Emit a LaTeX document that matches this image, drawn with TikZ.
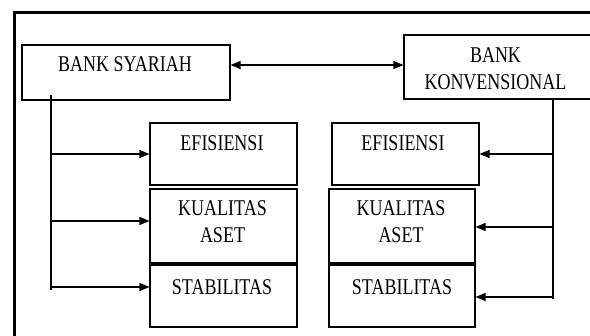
\documentclass[tikz,border=0pt]{standalone}
\usepackage{fontspec}
\usepackage{graphicx}
\setmainfont{Liberation Serif}
\usetikzlibrary{arrows.meta}

% text block: Times-like caps, slightly stretched vertically
\newcommand{\boxtext}[1]{\scalebox{1}[1.25]{\fontsize{18}{21.2}\selectfont\begin{tabular}[t]{@{}c@{}}#1\end{tabular}}}

\tikzset{
  frame/.style={line width=3pt, black},
  box/.style={draw=black, line width=1.1pt, inner sep=0pt, fill=none},
  txt/.style={inner sep=0pt, anchor=base},
  conn/.style={line width=1.1pt, black},
  arr/.style={conn, -{Triangle[length=10pt,width=8pt]}},
  darr/.style={conn, {Triangle[length=10pt,width=8pt]}-{Triangle[length=10pt,width=8pt]}}
}

\begin{document}
\begin{tikzpicture}[x=1pt, y=-1pt]
  \useasboundingbox (0,0) rectangle (590,336);
  \clip (0,0) rectangle (590,336);
  \fill[white] (0,0) rectangle (590,336);

  % outer frame (open to the right and bottom)
  \draw[frame] (14.5,345) -- (14.5,12.5) -- (600,12.5);

  % bank boxes
  \node[box, minimum width=208pt, minimum height=55pt] (syariah) at (126,72.5) {};
  \node[box, minimum width=188pt, minimum height=64pt] (konv) at (498,67) {};

  % left column
  \node[box, minimum width=147pt, minimum height=62pt] (lE) at (223.5,154) {};
  \node[box, minimum width=147pt, minimum height=74pt] (lK) at (223.5,226) {};
  \node[box, minimum width=147pt, minimum height=62pt] (lS) at (223.5,296) {};

  % right column
  \node[box, minimum width=147pt, minimum height=62pt] (rE) at (405.5,154) {};
  \node[box, minimum width=146pt, minimum height=74pt] (rK) at (402,226) {};
  \node[box, minimum width=146pt, minimum height=62pt] (rS) at (402,296) {};

  % labels
  \node[txt] (tSy) at (125,72) {\boxtext{BANK SYARIAH}};
  \node[txt] (tKo) at (495.5,63) {\boxtext{BANK\\KONVENSIONAL}};
  \node[txt] (tlE) at (222,151) {\boxtext{EFISIENSI}};
  \node[txt] (tlK) at (222.5,216) {\boxtext{KUALITAS\\ASET}};
  \node[txt] (tlS) at (222,295) {\boxtext{STABILITAS}};
  \node[txt] (trE) at (403,151) {\boxtext{EFISIENSI}};
  \node[txt] (trK) at (401,216) {\boxtext{KUALITAS\\ASET}};
  \node[txt] (trS) at (402,295) {\boxtext{STABILITAS}};

  % link between the two banks
  \draw[darr] (syariah.east |- 0,65) -- (konv.west |- 0,65);

  % left trunk and branches
  \coordinate (lt) at (51,95);
  \coordinate (lb) at (51,290);
  \coordinate (la1) at (51,154);
  \coordinate (la2) at (51,221);
  \coordinate (la3) at (51,287);
  \draw[conn] (lt) -- (lb);
  \draw[arr] (la1) -- (lE.west |- la1);
  \draw[arr] (la2) -- (lK.west |- la2);
  \draw[arr] (la3) -- (lS.west |- la3);

  % right trunk and branches
  \coordinate (rt) at (553,99);
  \coordinate (rb) at (553,299);
  \coordinate (ra1) at (553,154);
  \coordinate (ra2) at (553,227);
  \coordinate (ra3) at (553,297);
  \draw[conn] (rt) -- (rb);
  \draw[arr] (ra1) -- (rE.east |- ra1);
  \draw[arr] (ra2) -- (rK.east |- ra2);
  \draw[arr] (ra3) -- (rS.east |- ra3);
\end{tikzpicture}
\end{document}
